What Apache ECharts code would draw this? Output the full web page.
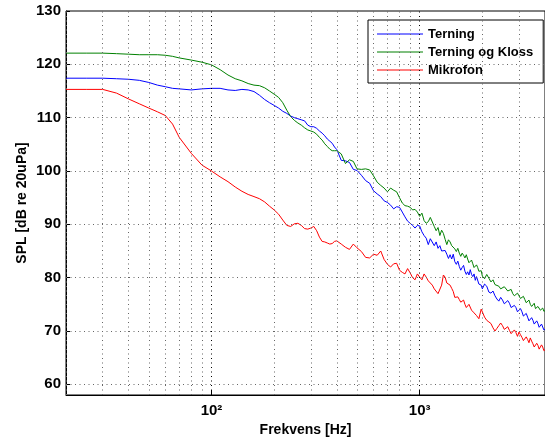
<!DOCTYPE html>
<html>
<head>
<meta charset="utf-8">
<script src="https://cdn.jsdelivr.net/npm/echarts@6/dist/echarts.min.js"></script>
<style>
html,body{margin:0;padding:0;background:#fff;}
#chart{width:545px;height:442px;}
</style>
</head>
<body>
<div id="chart"></div>
<script>
// Frequency grid (Hz)
const freq = [20,25,30,35,40,45,50,55,60,65,
  70,80,90,100,110,120,130,140,150,160,
  170,180,190,200,210,220,230,240,250,260,
  270,280,290,300,310,320,330,340,350,360,
  370,380,390,400,420,440,460,480,500,525,
  550,575,600,625,650,675,700,725,750,775,
  800,825,850,875,900,925,950,975,
  1000,1025,1050,1075,1100,1125,1150,1175,1200,1225,
  1250,1275,1300,1325,1350,1375,1400,1425,1450,1475,
  1500,1525,1550,1575,1600,1625,1650,1675,1700,1725,
  1750,1775,1800,1825,1850,1875,1900,1925,1950,1975,
  2000,
  2050,2100,2150,2200,2250,2300,2350,2400,2450,2500,
  2550,2600,2650,2700,2750,2800,2850,2900,2950,3000,
  3050,3100,3150,3200,3250,3300,3350,3400,3450,3500,
  3550,3600,3650,3700,3750,3800,3850,3900,3950,4000];

const terning = [117.4,117.4,117.4,117.3,117.2,117.0,116.6,116.1,115.8,115.5,
  115.4,115.2,115.4,115.5,115.5,115.2,115.1,115.3,115.2,114.9,
  114.2,113.4,112.8,112.3,111.8,111.2,110.8,110.3,110.0,109.8,
  109.6,109.4,108.6,108.3,108.3,108.0,107.5,107.1,106.6,106.0,
  105.6,105.2,104.5,104.0,102.0,101.9,101.6,100.3,100.1,99.2,
  98.2,97.7,96.3,95.7,95.2,94.4,94.1,93.6,92.9,93.3,
  93.2,92.3,91.4,90.6,90.2,89.8,89.3,89.8,
  89.7,88.6,87.9,87.4,86.2,87.3,87.0,86.0,86.7,85.5,
  86.0,85.0,84.7,85.1,84.4,83.6,84.3,83.5,84.4,83.0,
  82.5,83.1,82.1,81.4,81.9,82.3,81.2,80.6,81.1,80.5,
  81.5,80.6,80.2,80.7,79.5,80.2,79.9,78.8,79.0,78.6,
  77.9,
  78.8,78.4,77.3,77.1,77.5,76.6,76.0,75.6,76.3,75.8,
  75.1,75.0,75.7,75.2,74.4,74.1,74.8,74.4,73.6,73.5,
  74.2,73.6,72.8,72.7,73.3,72.6,71.9,71.8,72.5,72.0,
  71.3,71.2,71.9,71.4,70.7,70.6,71.3,71.1,70.2,70.3];

const terningOgKloss = [122.1,122.1,122.1,122.0,121.9,121.8,121.8,121.8,121.7,121.5,
  121.2,120.8,120.4,119.9,119.0,118.0,117.3,116.9,116.4,116.1,
  116.0,115.6,115.0,114.4,113.8,112.8,111.4,110.2,109.5,109.0,
  108.6,108.1,107.7,107.5,107.3,106.9,106.3,105.8,105.1,104.6,
  104.1,103.8,103.8,103.8,103.2,101.4,102.1,101.8,100.4,100.3,
  100.4,100.2,99.1,97.9,97.3,96.8,96.1,96.8,96.4,96.1,
  95.0,94.0,93.5,93.4,93.2,92.7,92.8,92.3,
  91.5,92.1,90.7,90.2,90.5,91.3,91.0,89.6,88.8,89.4,
  87.9,88.9,88.3,87.2,86.2,87.1,86.7,86.0,85.9,85.4,
  84.9,85.5,84.6,84.0,84.6,84.2,83.7,84.3,83.5,82.8,
  82.7,83.3,82.6,81.9,81.8,82.4,81.9,81.2,80.9,81.3,
  80.3,
  79.8,80.6,79.9,79.2,79.6,78.7,79.0,78.4,77.9,77.6,
  78.3,78.1,77.5,77.3,77.8,77.0,76.6,76.5,77.1,76.6,
  76.1,76.0,76.5,75.9,75.3,75.4,75.8,75.0,74.6,74.8,
  75.2,74.2,74.0,74.6,74.4,73.9,74.1,74.3,73.7,73.8];

const mikrofon = [115.3,115.3,115.3,114.6,113.5,112.6,111.8,111.1,110.4,108.8,
  106.3,103.3,101.1,100.0,98.9,98.0,97.0,96.2,95.6,95.2,
  94.8,94.2,93.4,92.7,91.9,90.8,89.8,89.6,90.1,90.2,
  89.8,89.2,89.1,89.3,89.6,88.8,87.6,86.8,86.7,86.5,
  86.3,86.4,86.8,86.9,86.3,85.7,85.3,86.3,85.6,84.9,
  83.8,83.7,84.4,84.2,85.0,83.4,82.5,82.0,82.6,82.7,
  81.4,81.0,80.7,81.7,80.9,80.0,79.6,80.7,
  80.1,79.6,80.7,80.1,79.4,79.0,78.6,77.9,77.6,77.0,
  77.2,78.6,80.5,80.1,79.0,79.3,78.6,78.0,77.4,76.3,
  76.0,76.4,75.9,75.4,75.3,75.8,75.0,74.4,74.5,75.0,
  74.8,73.9,74.0,73.4,73.6,72.9,73.2,72.3,72.6,74.1,
  73.8,
  72.6,72.0,71.7,71.4,70.6,70.0,70.5,71.0,71.5,71.0,
  70.3,70.4,70.8,70.1,69.5,69.6,70.2,69.7,69.0,69.8,
  69.3,68.8,68.2,68.3,68.9,68.4,67.8,68.7,68.1,67.6,
  67.0,67.1,67.7,67.3,66.6,66.8,67.4,67.0,66.3,66.5];

const seriesNames = ['Terning','Terning og Kloss','Mikrofon'];
const seriesColors = ['#0000ff','#008000','#ff0000'];
const yTicks = [60,70,80,90,100,110,120,130];
const xMajorTicks = [100,1000];
const xMinorTicks = [20,30,40,50,60,70,80,90,200,300,400,500,600,700,800,900,2000,3000,4000];
const xTickLabels = {100:'10\u00B2', 1000:'10\u00B3'};

const FONT = '"Liberation Sans", Arial, Helvetica, sans-serif';
const chart = echarts.init(document.getElementById('chart'), null, {renderer:'canvas'});

const gridLine = {color:'#666', width:1, type:[1,3.5]};
const markLineBase = {silent:true, symbol:'none', label:{show:false}, emphasis:{disabled:true}, animation:false};
const seriesValues = [terning, terningOgKloss, mikrofon];
// thin horizontal line icon inside a 46x14 box (zero-size corner sub-paths keep the box)
const LEGEND_LINE = 'path://M0,0L0,0M46,14L46,14M0,6.5L46,6.5L46,7.5L0,7.5Z';

const option = {
  backgroundColor:'#fff',
  animation:false,
  grid:{left:66, top:11, width:487, height:386, show:true, borderColor:'#000', borderWidth:1, backgroundColor:'transparent'},
  legend:{
    data:seriesNames.map((n,i)=>({name:n, icon:LEGEND_LINE, itemStyle:{color:seriesColors[i], borderWidth:0}})),
    orient:'vertical', left:368, top:20,
    padding:[7,10,6,9], itemGap:4, itemWidth:46, itemHeight:14,
    borderColor:'#000', borderWidth:1, backgroundColor:'#fff',
    textStyle:{fontFamily:FONT, fontSize:13, fontWeight:'bold', color:'#000', padding:[0,0,0,0]},
    selectedMode:false
  },
  xAxis:{
    type:'log', logBase:10, min:20, max:4000,
    name:'Frekvens [Hz]', nameLocation:'middle', nameGap:28,
    nameTextStyle:{fontFamily:FONT, fontSize:14, fontWeight:'bold', color:'#000'},
    axisLine:{lineStyle:{color:'#000', width:1}},
    axisTick:{inside:true, length:5, lineStyle:{color:'#000'}},
    axisLabel:{fontFamily:FONT, fontSize:15, fontWeight:'bold', color:'#000', margin:8,
      showMinLabel:false, showMaxLabel:false,
      formatter:function(v){ return xTickLabels[Math.round(v)] || ''; }},
    splitLine:{show:false}
  },
  yAxis:{
    type:'value', min:58, max:130,
    name:'SPL [dB re 20uPa]', nameLocation:'middle', nameGap:37, nameMoveOverlap:false,
    nameTextStyle:{fontFamily:FONT, fontSize:14, fontWeight:'bold', color:'#000'},
    axisLine:{show:true, lineStyle:{color:'#000', width:1}},
    axisTick:{show:true, inside:true, length:4, customValues:yTicks, lineStyle:{color:'#000'}},
    axisLabel:{fontFamily:FONT, fontSize:15, fontWeight:'bold', color:'#000', margin:5, customValues:yTicks},
    splitLine:{show:false}
  },
  series:[
    {name:'grid', type:'line', data:[], silent:true, z:1,
      markLine:Object.assign({}, markLineBase, {
        lineStyle:gridLine,
        data: yTicks.slice(0,-1).map(v=>({yAxis:v}))
          .concat(xMinorTicks.map(v=>({xAxis:v})))
          .concat(xMajorTicks.map(v=>({xAxis:v, lineStyle:{color:'#000', width:1, type:[1,3.5]}})))
      })}
  ].concat(seriesNames.map((n,i)=>({
    name:n, type:'line', symbol:'none', z:3, color:seriesColors[i],
    itemStyle:{color:seriesColors[i]},
    lineStyle:{color:seriesColors[i], width:1},
    data:freq.map((f,k)=>[f, seriesValues[i][k]])
  })))
};
chart.setOption(option);
</script>
</body>
</html>
